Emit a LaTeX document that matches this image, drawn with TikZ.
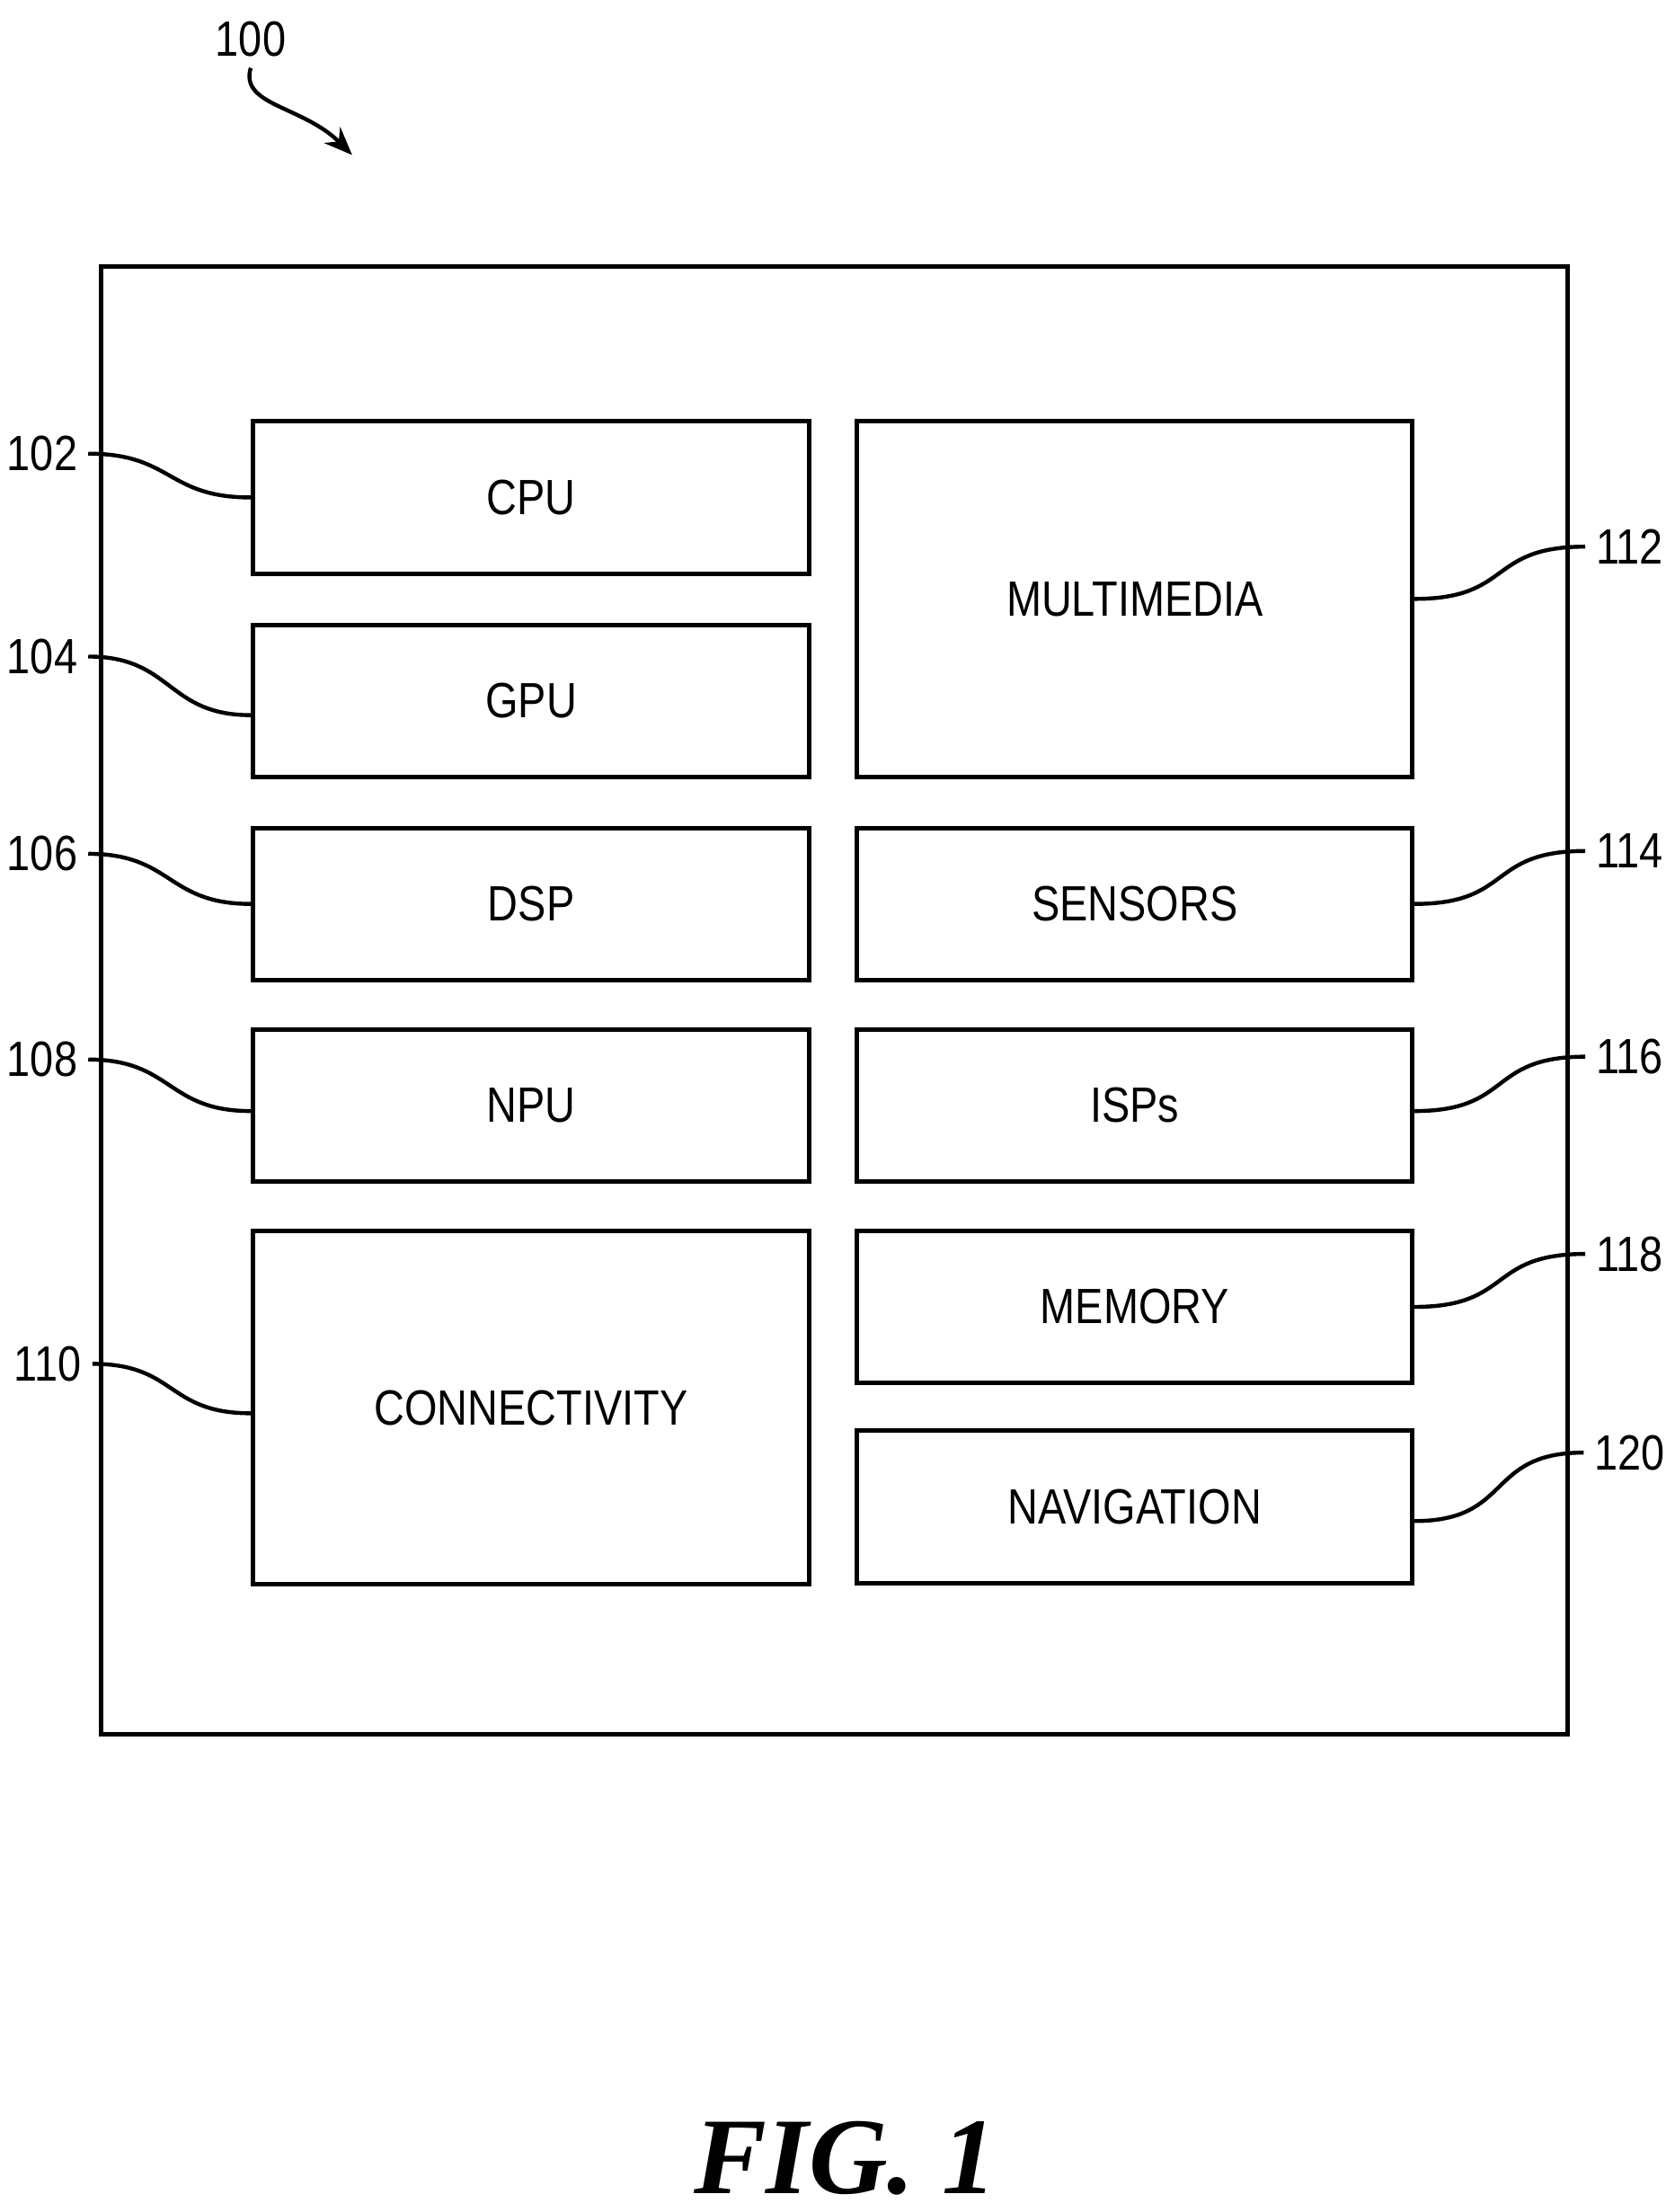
\documentclass[tikz,border=0pt]{standalone}
\usepackage{fontspec}
\setmainfont{Liberation Sans}
\newfontfamily\figfont{Liberation Serif}
\usetikzlibrary{arrows.meta}
\begin{document}
\begin{tikzpicture}[x=0.01cm,y=-0.01cm,
  blk/.style={draw,line width=0.9pt,inner sep=0pt,font=\fontsize{10}{12}\selectfont},
  lbl/.style={font=\fontsize{10}{12}\selectfont,inner sep=2pt},
  lead/.style={line width=0.8pt}]
\useasboundingbox (0,0) rectangle (1189,1570);
\draw[line width=0.9pt] (72,189) rectangle (1113,1231);
\newcommand\bx[6]{\node[blk,minimum width=#4*0.01cm-0.03cm,minimum height=#5*0.01cm-0.03cm,anchor=north west] (#1) at (#2,#3) {\scalebox{0.85}[1]{#6}};}
\bx{cpu}{178}{297}{398}{112}{CPU}
\bx{gpu}{178}{442}{398}{111}{GPU}
\bx{dsp}{178}{586}{398}{111}{DSP}
\bx{npu}{178}{729}{398}{111}{NPU}
\bx{con}{178}{872}{398}{254}{CONNECTIVITY}
\bx{mm}{607}{297}{397}{256}{MULTIMEDIA}
\bx{sen}{607}{586}{397}{111}{SENSORS}
\bx{isp}{607}{729}{397}{111}{ISPs}
\bx{mem}{607}{872}{397}{111}{MEMORY}
\bx{nav}{607}{1014}{397}{111}{NAVIGATION}
\foreach \n/\t/\y/\x in {l102/102/322/30, l104/104/466/30, l106/106/606/30, l108/108/752/30, l110/110/968/34}{
  \node[lbl] (\n) at (\x,\y) {\scalebox{0.85}[1]{\t}};
}
\draw[lead] (l102.east) .. controls +(60,0) and +(-60,0) .. (cpu.west);
\draw[lead] (l104.east) .. controls +(60,0) and +(-60,0) .. ([yshift=-0.1cm]gpu.west);
\draw[lead] (l106.east) .. controls +(60,0) and +(-60,0) .. (dsp.west);
\draw[lead] (l108.east) .. controls +(60,0) and +(-60,0) .. ([yshift=-0.04cm]npu.west);
\draw[lead] (l110.east) .. controls +(60,0) and +(-60,0) .. ([yshift=-0.04cm]con.west);
\node[lbl] (r112) at (1157,388) {\scalebox{0.85}[1]{112}};
\node[lbl] (r114) at (1157,604) {\scalebox{0.85}[1]{114}};
\node[lbl] (r116) at (1157,750) {\scalebox{0.85}[1]{116}};
\node[lbl] (r118) at (1157,890) {\scalebox{0.85}[1]{118}};
\node[lbl] (r120) at (1157,1031) {\scalebox{0.85}[1]{120}};
\draw[lead] (mm.east) .. controls +(70,0) and +(-70,0) .. (r112.west);
\draw[lead] (sen.east) .. controls +(70,0) and +(-70,0) .. (r114.west);
\draw[lead] ([yshift=-0.04cm]isp.east) .. controls +(70,0) and +(-70,0) .. (r116.west);
\draw[lead] (mem.east) .. controls +(70,0) and +(-70,0) .. (r118.west);
\draw[lead] ([yshift=-0.1cm]nav.east) .. controls +(70,0) and +(-70,0) .. (r120.west);
\node[lbl] (t100) at (178,28) {\scalebox{0.85}[1]{100}};
\coordinate (a100) at (250,110);
\draw[lead,-{Stealth[length=0.2cm,width=0.16cm]}] (t100.south) .. controls (170,75) and (215,75) .. (a100);
\node[font=\figfont\bfseries\itshape\fontsize{22}{26}\selectfont] (fig) at (600,1532) {FIG. 1};
\end{tikzpicture}
\end{document}
